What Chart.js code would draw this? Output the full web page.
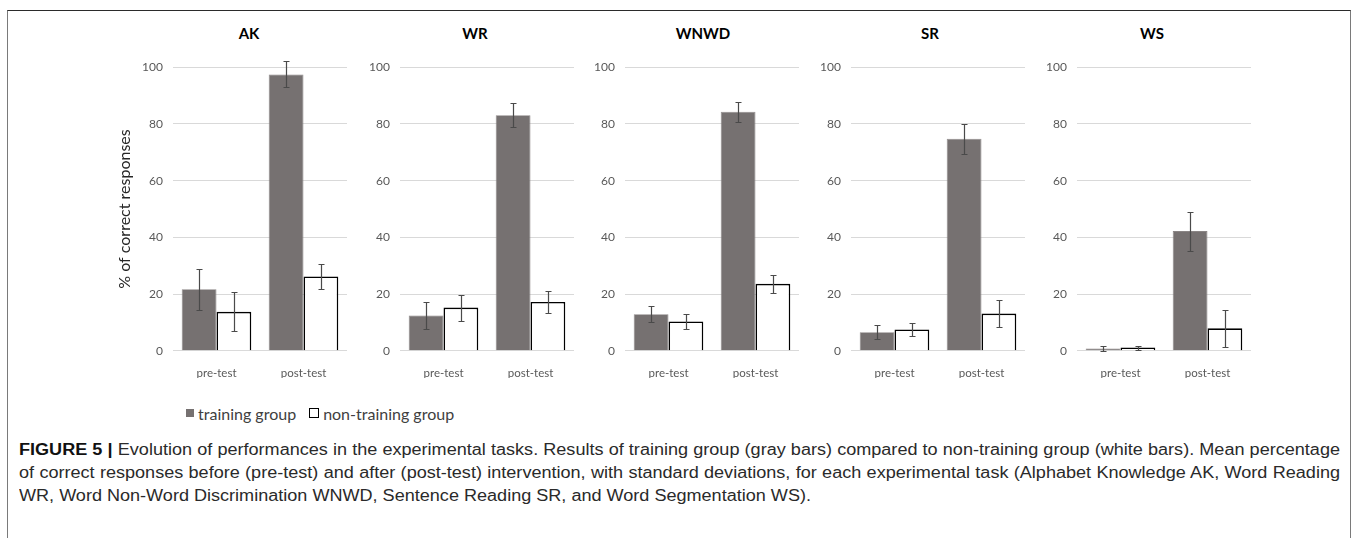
<!DOCTYPE html>
<html><head><meta charset="utf-8">
<script src="https://cdn.jsdelivr.net/npm/chart.js@4"></script>
<style>
html,body{margin:0;padding:0;background:#fff;width:1358px;height:538px;overflow:hidden;position:relative;}
#frame{position:absolute;left:7px;top:10px;width:1344px;height:600px;border:1px solid #7a7a7a;border-top-color:#2b2b2b;box-sizing:border-box;}
canvas{position:absolute;}
.ttl{position:absolute;top:24px;font:bold 15px Lato,"Open Sans",sans-serif;color:#000;transform:translateX(-50%);white-space:nowrap;line-height:18px;}
#legend{position:absolute;top:404px;left:186px;font:16px Lato,"Open Sans",sans-serif;color:#404040;display:flex;align-items:center;white-space:nowrap;height:18px;}
.sw{display:inline-block;width:8px;height:8px;margin-right:4px;box-sizing:border-box;}
.cap{position:absolute;left:19px;font:16px "Liberation Sans",Arial,sans-serif;color:#2a2a2a;white-space:nowrap;transform-origin:0 50%;line-height:18px;}
.cap b{color:#111;}
</style></head>
<body>
<div id="frame"></div>
<div id="legend"><span class="sw" style="background:#767171"></span><span>training group</span><span style="display:inline-block;width:13px"></span><span class="sw" style="width:10px;height:10px;border:1.6px solid #000;background:#fff"></span><span>non-training group</span></div>
<div class="cap" id="c1"><b>FIGURE 5 |</b> Evolution of performances in the experimental tasks. Results of training group (gray bars) compared to non-training group (white bars). Mean percentage</div>
<div class="cap" id="c2">of correct responses before (pre-test) and after (post-test) intervention, with standard deviations, for each experimental task (Alphabet Knowledge AK, Word Reading</div>
<div class="cap" id="c3">WR, Word Non-Word Discrimination WNWD, Sentence Reading SR, and Word Segmentation WS).</div>
<script>
// ---- data ----
const tasks = ['AK', 'WR', 'WNWD', 'SR', 'WS'];
const phases = ['pre-test', 'post-test'];
const yTicks = [0, 20, 40, 60, 80, 100];
const trainingPre = [21.7, 12.4, 12.9, 6.5, 0.8];
const trainingPost = [97.5, 83.1, 84.3, 74.8, 42.2];
const trainingPreSD = [7.2, 4.7, 2.7, 2.4, 0.8];
const trainingPostSD = [4.6, 4.2, 3.5, 5.3, 6.9];
const nonTrainingPre = [13.7, 15.2, 10.3, 7.5, 1.1];
const nonTrainingPost = [26.2, 17.2, 23.6, 13.1, 7.9];
const nonTrainingPreSD = [6.9, 4.6, 2.6, 2.3, 0.7];
const nonTrainingPostSD = [4.3, 4.0, 3.2, 4.9, 6.5];

// ---- layout ----
const plotLeft = [173, 399.5, 625, 851, 1077];
const plotWidth = 174;
const titleX = [249, 475, 703, 930, 1152];
const FONT = 'Lato, "Open Sans", sans-serif';
Chart.defaults.font.family = FONT;

const errorBars = {
  id: 'errorBars',
  afterDatasetsDraw(chart) {
    const ctx = chart.ctx, y = chart.scales.y;
    chart.data.datasets.forEach((ds, di) => {
      const meta = chart.getDatasetMeta(di);
      meta.data.forEach((bar, j) => {
        const m = ds.data[j], sd = ds.sd[j];
        const yt = Math.round(y.getPixelForValue(m + sd)) + 0.5;
        const yb = Math.round(y.getPixelForValue(Math.max(0, m - sd))) + 0.5;
        const x = Math.round(bar.x) + 0.5;
        ctx.save();
        ctx.strokeStyle = '#4a4a4a';
        ctx.lineWidth = 1.2;
        ctx.beginPath();
        ctx.moveTo(x, yt); ctx.lineTo(x, yb);
        ctx.moveTo(x - 3, yt); ctx.lineTo(x + 3, yt);
        ctx.moveTo(x - 3, yb); ctx.lineTo(x + 3, yb);
        ctx.stroke();
        ctx.restore();
      });
    });
  }
};

tasks.forEach((t, i) => {
  const tt = document.createElement('div');
  tt.className = 'ttl'; tt.textContent = t; tt.style.left = titleX[i] + 'px';
  document.body.appendChild(tt);

  const yW = i === 0 ? 68 : 32;
  const w = yW + plotWidth + 6, h = 338;
  const cv = document.createElement('canvas');
  cv.width = w; cv.height = h;
  cv.style.left = (plotLeft[i] - yW) + 'px'; cv.style.top = '40px';
  cv.style.width = w + 'px'; cv.style.height = h + 'px';
  document.body.appendChild(cv);

  new Chart(cv, {
    type: 'bar',
    data: {
      labels: phases,
      datasets: [
        { label: 'training group', data: [trainingPre[i], trainingPost[i]], sd: [trainingPreSD[i], trainingPostSD[i]],
          backgroundColor: '#767171', borderColor: '#8a8585', borderWidth: 0.8 },
        { label: 'non-training group', data: [nonTrainingPre[i], nonTrainingPost[i]], sd: [nonTrainingPreSD[i], nonTrainingPostSD[i]],
          backgroundColor: '#ffffff', borderColor: '#000000', borderWidth: 1.6 }
      ]
    },
    options: {
      responsive: false, animation: false, devicePixelRatio: 1,
      layout: { padding: { top: 27.3, right: 6, bottom: 0, left: 0 } },
      datasets: { bar: { categoryPercentage: 0.8, barPercentage: 1.0 } },
      plugins: { legend: { display: false }, tooltip: { enabled: false }, title: { display: false } },
      scales: {
        x: {
          grid: { display: false }, border: { display: false },
          ticks: { padding: 8, color: '#595959', font: { size: 11.5 } },
          afterFit(s) { s.height = 27.3; }
        },
        y: {
          min: 0, max: 100,
          afterBuildTicks(s) { s.ticks = yTicks.map(v => ({ value: v })); },
          ticks: { padding: 10, color: '#595959', font: { size: 12 } },
          grid: { color: '#d9d9d9', drawTicks: false, lineWidth: 1 },
          border: { display: false },
          title: { display: i === 0, text: '% of correct responses', color: '#262626', font: { size: 16 }, padding: { top: 10, bottom: 0 } },
          afterFit(s) { s.width = yW; }
        }
      }
    },
    plugins: [errorBars]
  });
});

// caption fitting
(function () {
  const c1 = document.getElementById('c1'), c2 = document.getElementById('c2'), c3 = document.getElementById('c3');
  const tops = [441, 464, 487];
  [c1, c2, c3].forEach((c, k) => c.style.top = tops[k] + 'px');
  const w3 = c3.getBoundingClientRect().width;
  const s = 792 / w3;
  [c1, c2].forEach(c => {
    const w = c.getBoundingClientRect().width;
    const n = (c.textContent.match(/ /g) || []).length;
    c.style.wordSpacing = ((1321 / s - w) / n) + 'px';
  });
  [c1, c2, c3].forEach(c => c.style.transform = 'scaleX(' + s + ')');
})();
</script>
</body></html>
